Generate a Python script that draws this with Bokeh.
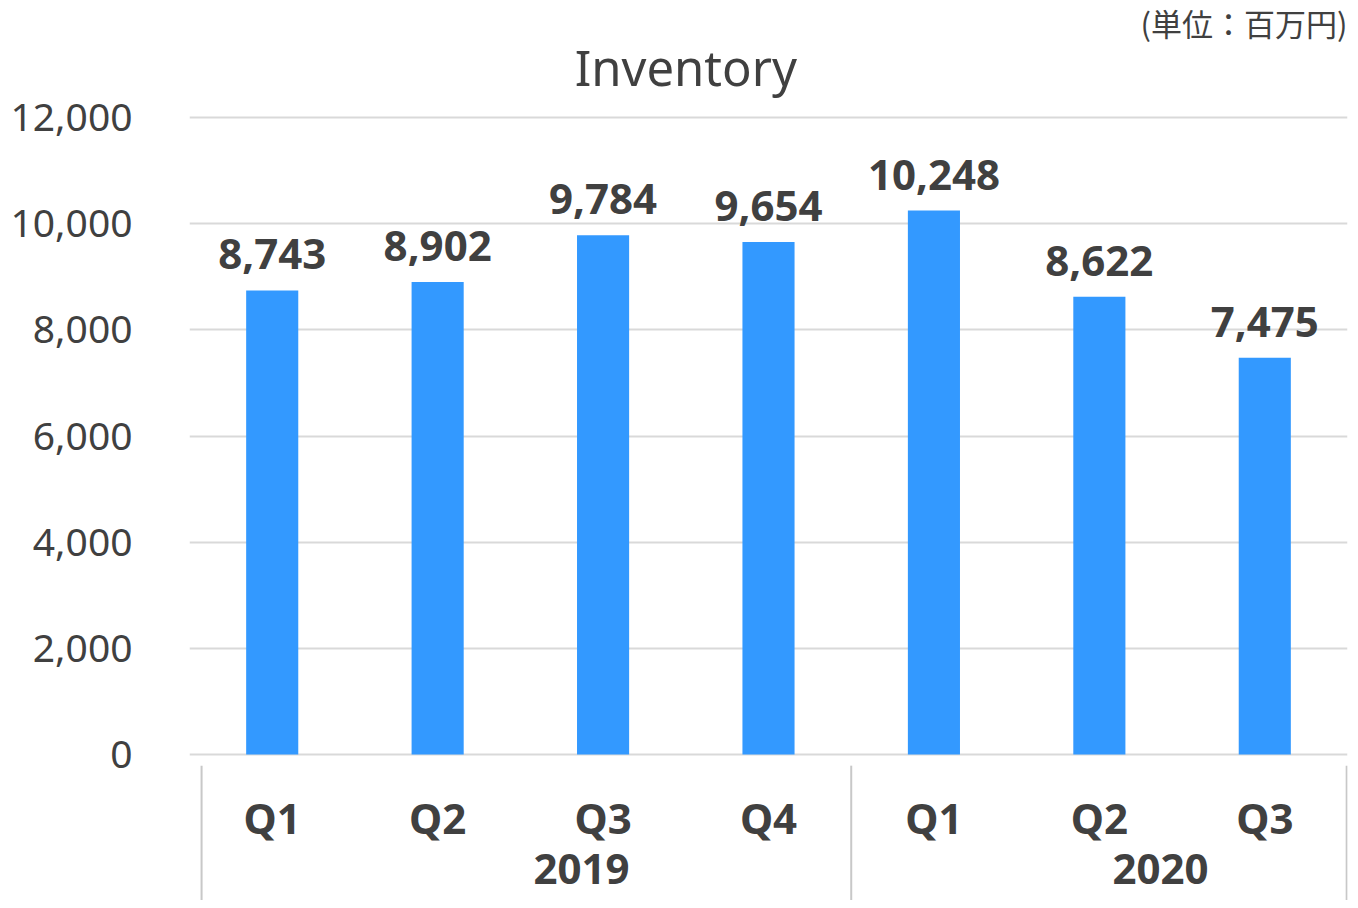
from bokeh.plotting import figure
from bokeh.models import Range1d, FixedTicker, NumeralTickFormatter, ColumnDataSource
from bokeh.core.properties import value
from bokeh.embed import file_html
from bokeh.resources import INLINE

years = ["2019", "2019", "2019", "2019", "2020", "2020", "2020"]
quarters = ["Q1", "Q2", "Q3", "Q4", "Q1", "Q2", "Q3"]
inventory = [8743, 8902, 9784, 9654, 10248, 8622, 7475]
y_ticks = [0, 2000, 4000, 6000, 8000, 10000, 12000]
title_text = "Inventory"
unit_text = "(単位：百万円)"

FONT = "Noto Sans"
TXT = "#404040"

xs = [i + 0.5 for i in range(len(inventory))]
src = ColumnDataSource(dict(
    x=xs, v=inventory, q=quarters,
    lbl=[f"{v:,}" for v in inventory],
))

p = figure(width=1350, height=900, output_backend="svg", toolbar_location=None,
           x_range=Range1d(0, len(inventory)), y_range=Range1d(-2750, 14054),
           min_border_left=189, min_border_right=3, min_border_top=8, min_border_bottom=0)
p.outline_line_color = None
p.xaxis.visible = False
p.xgrid.visible = False

p.yaxis.ticker = FixedTicker(ticks=y_ticks)
p.yaxis.formatter = NumeralTickFormatter(format="0,0")
p.yaxis.axis_line_color = None
p.yaxis.major_tick_line_color = None
p.yaxis.minor_tick_line_color = None
p.yaxis.major_label_standoff = 51
p.yaxis.major_label_text_font = FONT
p.yaxis.major_label_text_font_size = "39px"
p.yaxis.major_label_text_color = TXT
p.ygrid.grid_line_color = "#d9d9d9"
p.ygrid.grid_line_width = 2

p.vbar(x="x", top="v", bottom=0, width=0.315, source=src, color="#3399FF", line_color=None)

p.text(x="x", y="v", text="lbl", source=src, text_align="center", text_baseline="bottom",
       y_offset=-21, text_font=value(FONT), text_font_style="bold", text_font_size="42px",
       text_color=TXT)

# quarter labels
p.text(x="x", y=-1190, text="q", source=src, text_align="center", text_baseline="middle",
       text_font=value(FONT), text_font_style="bold", text_font_size="42px", text_color=TXT)

# year group labels
groups = []
for y in years:
    if y not in groups:
        groups.append(y)
gx = []
for g in groups:
    idx = [xs[i] for i in range(len(years)) if years[i] == g]
    gx.append(sum(idx) / len(idx) + 0.37)
p.text(x=gx, y=[-2150] * len(groups), text=groups, text_align="center", text_baseline="middle",
       text_font=value(FONT), text_font_style="bold", text_font_size="42px", text_color=TXT)

# group separators
bounds = [0.073]
for i in range(1, len(years)):
    if years[i] != years[i - 1]:
        bounds.append(float(i))
bounds.append(float(len(years)) - 0.005)
p.segment(x0=bounds, x1=bounds, y0=[-210] * len(bounds), y1=[-2750] * len(bounds),
          line_color="#c8c8c8", line_width=2)

# title
p.text(x=[3.0], y=[12960], text=[title_text], text_align="center", text_baseline="middle",
       text_font=value(FONT), text_font_size="49px", text_color=TXT)
# unit label
p.text(x=[7.0], y=[13790], text=[unit_text], text_align="right", text_baseline="middle",
       text_font=value("Noto Sans CJK JP"), text_font_size="31px", text_color=TXT)

open("out.html", "w").write(file_html(p, INLINE))
